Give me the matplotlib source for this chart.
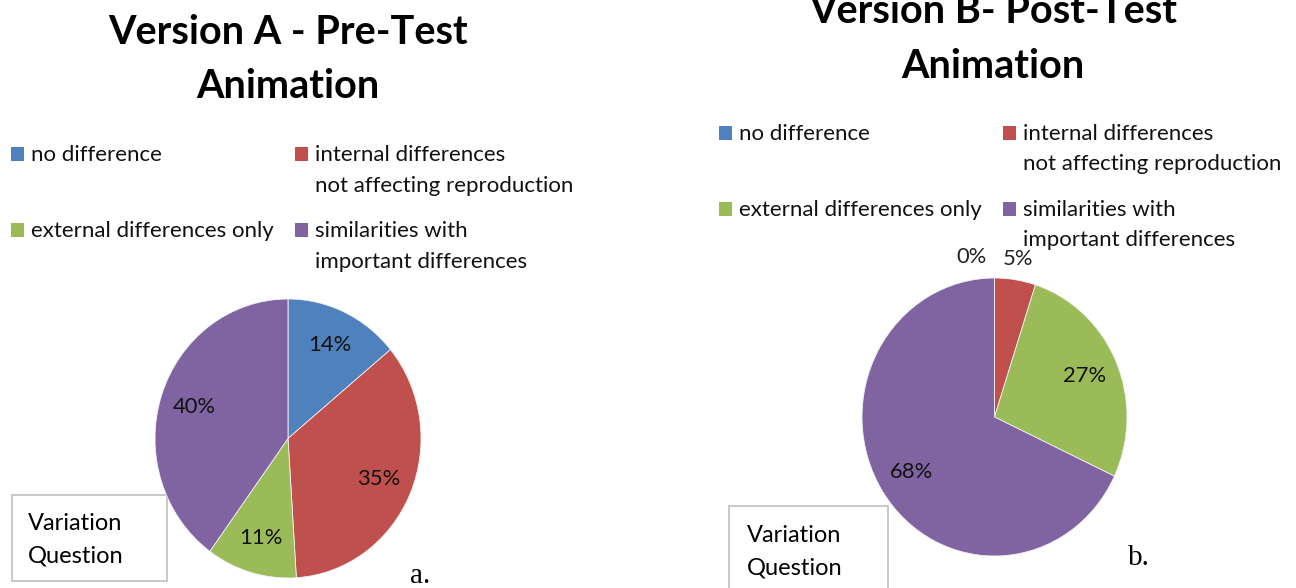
import numpy as np
import matplotlib
matplotlib.use("Agg")
import matplotlib.pyplot as plt
from matplotlib.patches import Rectangle

# ---- data ----
categories = ["no difference",
              "internal differences\nnot affecting reproduction",
              "external differences only",
              "similarities with\nimportant differences"]
pre_test = [14, 35, 11, 40]
post_test = [0, 5, 27, 68]
colors = ["#4F81BD", "#C0504D", "#9BBB59", "#8064A2"]
titles = ["Version A - Pre-Test\nAnimation", "Version B- Post-Test\nAnimation"]
box_text = "Variation\nQuestion"
panel_labels = ["a.", "b."]

W, H = 1296, 588
SANS = ["Lato", "DejaVu Sans"]
SERIF = ["Liberation Serif", "DejaVu Serif"]
plt.rcParams["font.family"] = SANS

fig = plt.figure(figsize=(W / 100, H / 100), dpi=100)

def frac_box(l, t, r, b):
    return [l / W, 1 - b / H, (r - l) / W, (b - t) / H]

# overlay axes in pixel coordinates for text / legend
ov = fig.add_axes([0, 0, 1, 1])
ov.set_xlim(0, W)
ov.set_ylim(H, 0)
ov.axis("off")

panels = [
    dict(values=pre_test, pie=(155, 299, 421, 578), title_x=288, title_base=(44, 98),
         leg_x=(11, 295), leg_y=(161, 237), leg_dx=20, leg_ls=30.5,
         box=(12, 495, 167, 581), box_tx=28, box_base=(530, 563),
         lab=(410, 583)),
    dict(values=post_test, pie=(862, 278, 1127, 556), title_x=993, title_base=(23, 78),
         leg_x=(719, 1003), leg_y=(140, 216), leg_dx=20, leg_ls=30.5,
         box=(729, 506, 888, 600), box_tx=747, box_base=(542, 575),
         lab=(1128, 565)),
]

for i, p in enumerate(panels):
    ax = fig.add_axes(frac_box(*p["pie"]))
    wedges, _, autotexts = ax.pie(
        p["values"], colors=colors, startangle=90, counterclock=False,
        autopct=lambda v: f"{v:.0f}%", pctdistance=0.74,
        wedgeprops=dict(edgecolor="#F2F2F2", linewidth=0.6),
        textprops=dict(fontsize=15.8, color="#111111"))
    ax.set_aspect("auto")
    ax.set_xlim(-1, 1)
    ax.set_ylim(-1, 1)
    for w, t, v in zip(wedges, autotexts, p["values"]):
        if v < 10:
            ang = np.deg2rad((w.theta1 + w.theta2) / 2)
            x, y = 1.15 * np.cos(ang), 1.15 * np.sin(ang)
            if v == 0:
                t.set_position((x - 0.06, y))
                t.set_ha("right")
            else:
                t.set_position((x, y))
            t.set_color("#222222")

    # title
    for line, yb in zip(titles[i].split("\n"), p["title_base"]):
        ov.text(p["title_x"], yb, line, ha="center", va="baseline",
                fontsize=28.5, fontweight="bold", color="black")

    # legend (2 x 2, row-wise)
    for k, (cat, col) in enumerate(zip(categories, colors)):
        r, c = divmod(k, 2)
        mx, my = p["leg_x"][c], p["leg_y"][r]
        ov.add_patch(Rectangle((mx, my - 14), 12.5, 14, facecolor=col, edgecolor="none"))
        for j, line in enumerate(cat.split("\n")):
            ov.text(mx + p["leg_dx"], my + j * p["leg_ls"], line, ha="left",
                    va="baseline", fontsize=16, color="#111111")

    # text box
    l, t, r_, b = p["box"]
    ov.add_patch(Rectangle((l, t), r_ - l, b - t, facecolor="white",
                           edgecolor="#BFBFBF", linewidth=1.2, zorder=3))
    for line, yb in zip(box_text.split("\n"), p["box_base"]):
        ov.text(p["box_tx"], yb, line, ha="left", va="baseline",
                fontsize=17, color="black", zorder=4)

    # panel label
    ov.text(p["lab"][0], p["lab"][1], panel_labels[i], ha="left", va="baseline",
            fontsize=21, family=SERIF, color="black")

fig.savefig("out.png", dpi=100)
